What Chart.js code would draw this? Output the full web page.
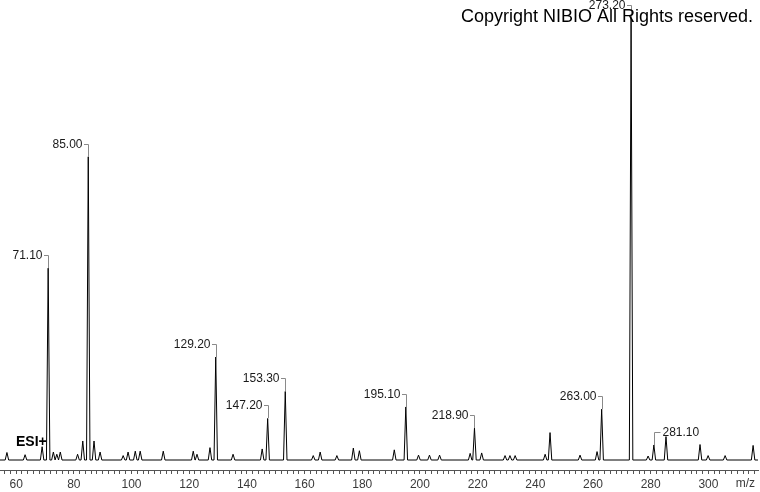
<!DOCTYPE html>
<html><head><meta charset="utf-8">
<script src="https://cdn.jsdelivr.net/npm/chart.js@4/dist/chart.umd.min.js"></script>
<style>html,body{margin:0;padding:0;background:#fff;}canvas{display:block;}</style>
</head><body>
<canvas id="c" width="760" height="492"></canvas>
<script>
// Peak list (m/z) and relative intensities (% of base peak)
const peakMz = [56.8, 63.1, 69.0, 71.1, 72.9, 74.1, 75.3, 81.3, 83.1, 85.0, 87.0, 89.1,
  97.1, 98.8, 101.3, 103.0, 111.0, 121.4, 122.7, 127.2, 129.2, 135.2, 145.3, 147.2,
  153.3, 163.0, 165.4, 171.2, 176.9, 179.0, 191.1, 195.1, 199.5, 203.3, 206.8, 217.4,
  218.9, 221.4, 229.5, 231.2, 233.0, 243.4, 245.1, 255.5, 261.4, 263.0, 273.2, 279.1,
  281.1, 285.3, 297.1, 299.9, 305.8, 315.5];
const peakIntensity = [1.7, 1.2, 3.0, 43.4, 1.8, 1.3, 1.8, 1.3, 4.3, 68.6, 4.3, 1.8,
  1.0, 1.8, 2.0, 2.0, 2.0, 2.0, 1.3, 2.8, 23.3, 1.3, 2.5, 9.4,
  15.5, 1.0, 1.8, 1.0, 2.7, 2.1, 2.3, 12.0, 1.1, 1.1, 1.1, 1.5,
  7.2, 1.6, 1.0, 1.0, 1.0, 1.3, 6.2, 1.1, 1.9, 11.5, 100, 0.9,
  3.4, 5.3, 3.5, 1.0, 1.0, 3.3];
// Annotated peaks
const labelMz   = [71.1, 85.0, 129.2, 147.2, 153.3, 195.1, 218.9, 263.0, 273.2, 281.1];
const labelText = ['71.10','85.00','129.20','147.20','153.30','195.10','218.90','263.00','273.20','281.10'];
const labelSide = ['left','left','left','left','left','left','left','left','left','right'];
// Axis labels
const xTickLabels = [60, 80, 100, 120, 140, 160, 180, 200, 220, 240, 260, 280, 300];
const axisTitle = 'm/z';
const ionMode = 'ESI+';
const copyright = 'Copyright NIBIO All Rights reserved.';

const X_MIN = 54.4, X_MAX = 317.2, HALF = 0.6;
const profile = [{x: X_MIN, y: 0}];
peakMz.forEach((m, i) => {
  profile.push({x: m - HALF, y: 0}, {x: m, y: peakIntensity[i]}, {x: m + HALF, y: 0});
});
profile.push({x: X_MAX, y: 0});

const annot = {
  id: 'annot',
  afterDatasetsDraw(chart) {
    const ctx = chart.ctx, xs = chart.scales.x, ys = chart.scales.y;
    ctx.save();
    ctx.font = '12px "Liberation Sans", Arial, sans-serif';
    ctx.textBaseline = 'middle';
    labelMz.forEach((m, i) => {
      const inten = peakIntensity[peakMz.indexOf(m)];
      const px = Math.round(xs.getPixelForValue(m)) + 0.5;
      const top = Math.round(ys.getPixelForValue(inten));
      const ly = top - 13;
      ctx.strokeStyle = '#8a8a8a'; ctx.lineWidth = 1;
      ctx.beginPath();
      if (labelSide[i] === 'left') {
        const tx = px - 6;
        ctx.moveTo(tx + 1.5, ly + 0.5); ctx.lineTo(px, ly + 0.5); ctx.lineTo(px, top);
        ctx.stroke();
        ctx.fillStyle = '#1a1a1a'; ctx.textAlign = 'right';
        ctx.fillText(labelText[i], tx, ly + 1);
      } else {
        const tx = px + 8;
        ctx.moveTo(px, top); ctx.lineTo(px, ly + 0.5); ctx.lineTo(tx - 2, ly + 0.5);
        ctx.stroke();
        ctx.fillStyle = '#1a1a1a'; ctx.textAlign = 'left';
        ctx.fillText(labelText[i], tx, ly + 1);
      }
    });
    ctx.restore();
  },
  afterDraw(chart) {
    const ctx = chart.ctx;
    ctx.save();
    ctx.fillStyle = '#000';
    ctx.font = 'bold 14px "Liberation Sans", Arial, sans-serif';
    ctx.textAlign = 'left'; ctx.textBaseline = 'alphabetic';
    ctx.fillText(ionMode, 16, 446);
    ctx.font = '18px "Liberation Sans", Arial, sans-serif';
    ctx.textAlign = 'right';
    ctx.fillText(copyright, 753, 21.5);
    ctx.font = '12px "Liberation Sans", Arial, sans-serif';
    ctx.fillStyle = '#3a3a3a';
    ctx.textAlign = 'right'; ctx.textBaseline = 'middle';
    ctx.fillText(axisTitle, 755, 484);
    ctx.restore();
  }
};

new Chart(document.getElementById('c'), {
  type: 'line',
  data: {datasets: [{data: profile, borderColor: '#000', borderWidth: 1, pointRadius: 0, tension: 0, fill: false}]},
  options: {
    responsive: false, animation: false, events: [],
    layout: {padding: {left: 0, right: 2, top: 18, bottom: 0}},
    plugins: {legend: {display: false}, tooltip: {enabled: false}},
    scales: {
      x: {
        type: 'linear', min: X_MIN, max: X_MAX,
        afterFit: (s) => { s.height = 22; },
        grid: {drawOnChartArea: false, drawTicks: true, tickLength: 4, color: '#555'},
        border: {display: true, color: '#555', width: 1},
        ticks: {
          stepSize: 2, includeBounds: false, autoSkip: false, maxRotation: 0, padding: 3,
          color: '#3a3a3a', font: {family: '"Liberation Sans", Arial, sans-serif', size: 12},
          callback: (v) => xTickLabels.includes(v) ? String(v) : ''
        }
      },
      y: {display: false, min: -2.262, max: 100}
    }
  },
  plugins: [annot]
});
</script>
</body></html>
